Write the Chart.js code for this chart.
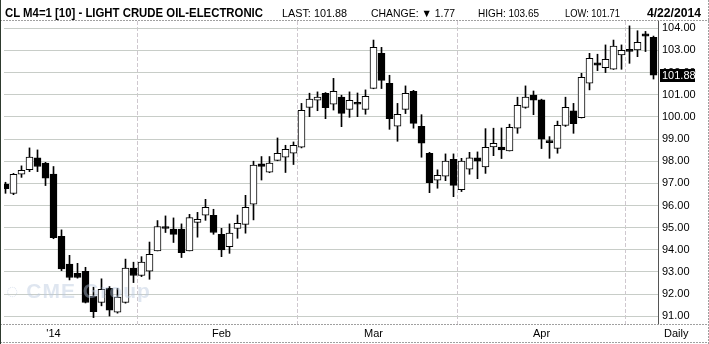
<!DOCTYPE html>
<html>
<head>
<meta charset="utf-8">
<script src="https://cdn.jsdelivr.net/npm/chart.js@4.4.0/dist/chart.umd.min.js"></script>
<style>
  body { margin: 0; background: #fff; }
  #wrap { position: relative; width: 709px; height: 344px; overflow: hidden; font-family: "Liberation Sans", Arial, sans-serif; }
  #chart { position: absolute; left: 0; top: 0; }
  .h { position: absolute; white-space: nowrap; transform-origin: 0 0; color: #000; line-height: 1; }
  .big { font-size: 13px; font-weight: bold; top: 6px; }
  .small { font-size: 11px; top: 8px; }
  #daily { position: absolute; left: 664px; top: 328px; font-size: 11px; line-height: 1; }
  #wm { position: absolute; left: 6px; top: 280px; font-size: 21px; font-weight: bold; color: rgba(185, 200, 222, 0.45); line-height: 1; letter-spacing: 1px; }
</style>
</head>
<body>
<div id="wrap">
  <canvas id="chart" width="709" height="344"></canvas>
  <span class="h big" data-x="5" data-w="258">CL M4=1 [10] - LIGHT CRUDE OIL-ELECTRONIC</span>
  <span class="h small" data-x="282" data-w="65">LAST: 101.88</span>
  <span class="h small" data-x="371" data-w="84">CHANGE: ▼ 1.77</span>
  <span class="h small" data-x="478" data-w="61">HIGH: 103.65</span>
  <span class="h small" data-x="565" data-w="55">LOW: 101.71</span>
  <span class="h big" data-x="647" data-w="54">4/22/2014</span>
  <div id="wm">◌ CME Group</div>
  <div id="daily">Daily</div>
</div>
<script>
// daily candles, Dec 23 2013 .. Apr 22 2014 (index = trading day)
var opens = [96.97, 96.54, 97.41, 97.62, 98.15, 97.91, 97.42, 94.61, 93.35, 92.94,
  93.03, 91.90, 91.62, 92.26, 91.18, 91.62, 93.17, 92.84, 93.03, 93.95,
  95.02, 94.93, 94.93, 93.95, 95.24, 95.56, 95.56, 94.70, 94.14, 94.97,
  95.15, 96.06, 97.88, 97.50, 98.04, 98.18, 98.36, 98.63, 100.43, 100.75,
  101.07, 100.57, 100.89, 100.34, 100.62, 100.34, 101.29, 102.87, 101.52, 99.58,
  100.34, 101.16, 99.58, 98.36, 97.14, 97.32, 98.09, 96.72, 97.64, 98.15,
  97.74, 98.64, 98.64, 98.46, 99.49, 100.43, 100.98, 100.77, 98.90, 98.58,
  99.61, 100.27, 99.97, 101.52, 102.44, 102.22, 102.15, 102.80, 103.02, 103.02,
  103.75, 103.59];
var highs = [97.05, 97.45, 97.79, 98.60, 98.51, 97.95, 97.76, 94.90, 93.75, 93.39,
  93.21, 92.31, 92.69, 92.34, 92.26, 93.58, 93.44, 93.69, 94.35, 95.32,
  95.53, 95.44, 95.17, 95.60, 95.69, 96.28, 95.83, 94.97, 95.17, 95.57,
  96.46, 98.00, 98.21, 98.21, 99.05, 98.72, 98.87, 100.61, 101.07, 101.13,
  101.10, 101.74, 100.98, 101.13, 101.08, 101.22, 103.47, 103.14, 101.88, 100.61,
  101.40, 101.20, 100.10, 98.40, 97.61, 98.33, 98.33, 98.13, 98.40, 98.42,
  99.47, 99.49, 99.50, 99.67, 100.89, 101.40, 101.17, 100.80, 99.11, 99.81,
  100.89, 100.61, 101.97, 102.87, 102.83, 103.25, 103.47, 103.25, 104.11, 103.89,
  103.86, 103.65];
var lows = [96.55, 96.49, 97.27, 97.53, 97.53, 96.90, 94.50, 93.06, 92.64, 92.72,
  91.60, 90.94, 91.47, 91.01, 91.14, 91.59, 92.52, 92.79, 92.67, 93.95,
  94.78, 94.33, 93.65, 93.95, 94.57, 95.33, 94.70, 93.69, 93.84, 94.52,
  94.75, 95.35, 97.15, 97.48, 98.02, 97.49, 97.85, 98.60, 100.01, 100.28,
  99.92, 100.31, 99.56, 99.98, 100.01, 100.12, 101.27, 101.28, 99.44, 98.90,
  100.15, 99.49, 98.18, 96.58, 96.78, 97.12, 96.40, 96.63, 97.41, 97.21,
  97.45, 98.25, 98.12, 98.46, 99.26, 100.39, 100.10, 98.57, 98.13, 98.36,
  99.57, 99.26, 99.95, 101.22, 102.09, 102.00, 102.14, 102.15, 102.42, 102.72,
  102.95, 101.71];
var closes = [96.76, 97.41, 97.59, 98.19, 97.76, 97.23, 94.55, 93.14, 92.75, 92.75,
  91.62, 91.21, 92.22, 91.27, 91.86, 93.17, 92.84, 93.44, 93.80, 95.05,
  94.96, 94.70, 93.87, 95.45, 95.38, 95.92, 94.78, 94.00, 94.75, 95.20,
  95.92, 97.82, 97.77, 97.91, 98.36, 98.54, 98.72, 100.30, 100.80, 100.89,
  100.42, 101.16, 100.16, 100.75, 100.57, 100.93, 103.14, 101.65, 99.92, 100.12,
  101.07, 99.71, 98.81, 97.03, 97.36, 98.00, 96.91, 98.00, 98.15, 98.00,
  98.63, 98.81, 98.51, 99.53, 100.52, 100.89, 100.75, 98.99, 98.84, 99.62,
  100.43, 99.70, 101.79, 102.65, 102.34, 102.60, 103.20, 103.01, 102.96, 103.37,
  103.65, 101.88];

var monthTicks = [6, 27, 46, 67];
var monthLabels = ["'14", 'Feb', 'Mar', 'Apr'];
var priceTicks = [91, 92, 93, 94, 95, 96, 97, 98, 99, 100, 101, 102, 103, 104];

var bodies = [], wicks = [], bodyColors = [];
for (var i = 0; i < closes.length; i++) {
  bodies.push({ x: i, y: [Math.min(opens[i], closes[i]), Math.max(opens[i], closes[i])] });
  wicks.push({ x: i, y: [lows[i], highs[i]] });
  bodyColors.push(closes[i] >= opens[i] ? '#ffffff' : '#000000');
}

var frame = {
  id: 'frame',
  beforeDatasetsDraw: function (chart) {
    var c = chart.ctx, a = chart.chartArea;
    c.save();
    c.strokeStyle = '#a0a0a0';
    c.setLineDash([2, 1]);
    c.beginPath();
    c.moveTo(0, a.top - 0.5); c.lineTo(709, a.top - 0.5);
    c.moveTo(0, a.bottom + 0.5); c.lineTo(709, a.bottom + 0.5);
    c.moveTo(0, 342.5); c.lineTo(709, 342.5);
    c.moveTo(708.5, 0); c.lineTo(708.5, 344);
    c.stroke();
    c.setLineDash([]);
    c.strokeStyle = '#2e3a2e';
    c.beginPath();
    c.moveTo(0.5, 0); c.lineTo(0.5, 344);
    c.stroke();
    c.restore();
  },
  afterDraw: function (chart) {
    var c = chart.ctx;
    var last = closes[closes.length - 1];
    var y = chart.scales.y.getPixelForValue(last);
    c.save();
    c.fillStyle = '#000';
    c.fillRect(660, Math.round(y) - 6, 35, 13);
    c.fillStyle = '#fff';
    c.font = '11px "Liberation Sans", Arial, sans-serif';
    c.textBaseline = 'middle';
    c.fillText(last.toFixed(2), 662, Math.round(y) + 0.5);
    c.restore();
  }
};

new Chart(document.getElementById('chart'), {
  type: 'bar',
  data: {
    datasets: [{
      data: bodies,
      backgroundColor: bodyColors,
      borderColor: '#000',
      borderWidth: 1,
      borderSkipped: false,
      barThickness: 7,
      minBarLength: 2
    }, {
      data: wicks,
      backgroundColor: '#000',
      borderWidth: 0,
      barThickness: 1
    }]
  },
  options: {
    responsive: false,
    animation: false,
    grouped: false,
    layout: { padding: { left: 4, top: 21, right: 0, bottom: 0 } },
    plugins: { legend: { display: false }, tooltip: { enabled: false } },
    scales: {
      x: {
        type: 'linear',
        offset: false,
        min: -0.1875,
        max: 81.5625,
        afterFit: function (s) { s.height = 20; },
        afterBuildTicks: function (s) { s.ticks = monthTicks.map(function (v) { return { value: v }; }); },
        ticks: {
          autoSkip: false,
          maxRotation: 0,
          padding: 3,
          color: '#000',
          font: { family: '"Liberation Sans", Arial, sans-serif', size: 11 },
          callback: function (v) { return monthLabels[monthTicks.indexOf(v)]; }
        },
        grid: { color: '#cfc8cf', drawTicks: false },
        border: { display: false, dash: [4, 2] }
      },
      y: {
        position: 'right',
        min: 90.65,
        max: 104.33,
        afterFit: function (s) { s.width = 51; },
        afterBuildTicks: function (s) { s.ticks = priceTicks.map(function (v) { return { value: v }; }); },
        ticks: {
          padding: 4,
          color: '#000',
          font: { family: '"Liberation Sans", Arial, sans-serif', size: 11 },
          callback: function (v) { return v.toFixed(2); }
        },
        grid: { color: '#c8cdc8', drawTicks: false },
        border: { display: true, color: '#555', width: 1 }
      }
    }
  },
  plugins: [frame]
});

// squeeze header texts to the reference widths
document.querySelectorAll('.h').forEach(function (el) {
  el.style.left = el.dataset.x + 'px';
  var w = el.getBoundingClientRect().width;
  el.style.transform = 'scaleX(' + (el.dataset.w / w) + ')';
});
</script>
</body>
</html>
